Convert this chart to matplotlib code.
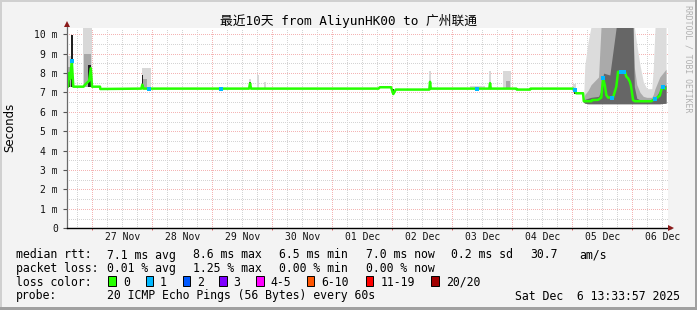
import numpy as np
import matplotlib.pyplot as plt
from matplotlib.patches import Rectangle

plt.rcParams['font.family'] = 'DejaVu Sans Mono'

W, H = 697, 310

# time axis: hours since 2025-11-26 00:00, values in ms
med_hours = [13.76, 14.3, 14.7, 15.1, 15.8, 16.4, 20.5, 21.1, 22.7, 23.4, 23.9, 27.1, 27.2,
             43.6, 44.0, 44.4, 86.7, 87.1, 87.5, 138.5, 139.0, 143.5, 144.4, 145.4, 158.8,
             159.1, 159.4, 182.8, 183.1, 183.4, 193.6, 193.8, 199.1, 199.3, 216.4, 216.9,
             217.6, 220.3, 220.6, 223.6, 223.9, 226.3, 227.6, 228.3, 229.0, 229.6, 230.3,
             232.3, 233.0, 233.6, 234.3, 237.1, 237.6, 238.3, 239.0, 239.4, 239.9, 240.3,
             241.0, 247.6, 248.3, 249.6, 251.0, 251.6, 252.3, 253.0, 253.6]
med_ms = [7.3, 7.3, 8.0, 7.7, 8.6, 7.3, 7.3, 7.4, 7.6, 8.25, 7.3, 7.3, 7.18,
          7.2, 7.4, 7.2, 7.2, 7.47, 7.2, 7.2, 7.27, 7.27, 6.92, 7.15, 7.15,
          7.55, 7.2, 7.2, 7.48, 7.2, 7.2, 7.15, 7.15, 7.2, 7.2, 7.13,
          6.96, 6.96, 6.55, 6.55, 6.61, 6.62, 6.74, 7.73, 7.39, 6.87, 6.74,
          6.74, 7.04, 7.3, 8.07, 8.05, 7.82, 7.73, 7.56, 7.39, 6.97, 6.61,
          6.55, 6.55, 6.61, 6.7, 6.84, 7.13, 7.3, 7.21, 7.2]

# median samples with 1/20 loss
loss1_hours = [15.8, 46.8, 75.4, 178.0, 216.9, 228.3, 231.8, 235.6, 236.7, 249.0, 252.3]
loss1_ms = [8.6, 7.2, 7.2, 7.2, 7.13, 7.73, 6.74, 8.05, 8.05, 6.65, 7.3]

# smoke bursts before 05 Dec
light_c = [15.0, 22.1, 45.6, 87.1, 90.4, 93.1, 159.1, 183.1, 189.9, 216.9, 178.0]
light_w = [2.6, 3.8, 3.6, 0.6, 0.8, 0.6, 0.8, 0.6, 3.2, 1.2, 6.0]
light_top = [8.9, 10.4, 8.25, 7.7, 7.9, 7.55, 8.1, 8.1, 8.1, 7.45, 7.32]
light_base = [7.3, 7.3, 7.2, 7.2, 7.2, 7.2, 7.2, 7.2, 7.2, 7.0, 7.2]

mid_c = [15.2, 22.0, 45.0, 190.3]
mid_w = [1.8, 3.0, 1.6, 1.4]
mid_top = [8.3, 9.0, 7.7, 7.6]
mid_base = [7.3, 7.3, 7.2, 7.2]

dark_c = [14.6, 15.9, 23.0, 44.0, 87.1, 144.4, 159.1, 183.1, 216.9]
dark_w = [0.8, 0.6, 1.2, 0.4, 0.5, 0.5, 0.5, 0.5, 0.8]
dark_top = [8.0, 9.96, 8.4, 7.9, 7.55, 7.2, 7.6, 7.5, 7.2]
dark_base = [7.3, 7.3, 7.3, 7.2, 7.2, 6.87, 7.2, 7.2, 6.9]

# smoke on 05-06 Dec
end_hours = [220.5, 221.0, 222.3, 223.5, 226.5, 227.5, 228.5, 231.0, 233.6, 240.3,
             240.8, 241.8, 243.1, 244.4, 245.8, 247.8, 248.4, 249.1, 251.0, 253.5]
end_low = [6.5, 6.45, 6.42, 6.42, 6.42, 6.42, 6.42, 6.42, 6.42, 6.42,
           6.42, 6.42, 6.42, 6.42, 6.42, 6.42, 6.42, 6.42, 6.42, 6.45]
end_light = [6.6, 8.4, 9.6, 10.4, 10.4, 10.4, 10.4, 10.4, 10.4, 10.4,
             10.4, 9.45, 8.4, 7.56, 7.2, 7.2, 8.25, 10.4, 10.4, 10.4]
end_mid = [6.6, 6.9, 7.1, 7.4, 7.8, 10.4, 10.4, 10.4, 10.4, 10.4,
           8.3, 7.4, 7.0, 6.8, 6.75, 6.75, 6.9, 7.2, 7.8, 8.2]
end_dark = [6.6, 6.65, 6.7, 6.75, 6.8, 7.1, 8.0, 7.9, 10.4, 10.4,
            7.3, 6.7, 6.62, 6.6, 6.6, 6.6, 6.62, 6.7, 7.1, 7.4]

day_hours = [36, 60, 84, 108, 132, 156, 180, 204, 228, 252]
day_labels = ['27 Nov', '28 Nov', '29 Nov', '30 Nov', '01 Dec', '02 Dec', '03 Dec', '04 Dec', '05 Dec', '06 Dec']
ytick_labels = ['0', '1 m', '2 m', '3 m', '4 m', '5 m', '6 m', '7 m', '8 m', '9 m', '10 m']

loss_names = ['0', '1', '2', '3', '4-5', '6-10', '11-19', '20/20']
loss_colors = ['#26ff00', '#00b8ff', '#0059ff', '#7e00ff', '#ff00ff', '#ff5500', '#ff0000', '#a10000']
loss_box_x = [108.3, 145.7, 182.7, 219.3, 256, 306.7, 365.7, 431]
loss_text_x = [123.3, 160, 196.7, 233.3, 270.7, 321.7, 380.7, 445.7]

rtt_stats = ['7.1 ms avg', '8.6 ms max', '6.5 ms min', '7.0 ms now', '0.2 ms sd', '30.7', 'am/s']
rtt_x = [107.3, 193.3, 279.3, 366, 451, 530, 579.3]
loss_stats = ['0.01 % avg', '1.25 % max', '0.00 % min', '0.00 % now']
loss_x = [107.3, 193.3, 279.3, 366]


def fx(x):
    return x / W


def fy(y):
    return 1 - y / H


fig = plt.figure(figsize=(W / 100, H / 100), dpi=100, facecolor='#f3f3f3')
ax = fig.add_axes([fx(66.7), fy(228.3), (668.3 - 66.7) / W, (228.3 - 27.7) / H])
ax.set_facecolor('white')
ax.set_xlim(13.76, 254.4)
ax.set_ylim(0, 10.34)

# grid, dotted like rrdtool
for h in range(18, 255, 6):
    col = '#f4b4b4' if h % 24 == 0 else '#d4d4d4'
    ax.axvline(h, color=col, lw=0.72, ls=(0, (1, 1.4)), antialiased=False, zorder=0.5)
for v in np.arange(0.5, 10.4, 0.5):
    col = '#f4b4b4' if v % 1 == 0 else '#d4d4d4'
    ax.axhline(v, color=col, lw=0.72, ls=(0, (1, 1.4)), antialiased=False, zorder=0.5)

# smoke
ax.bar(light_c, np.subtract(light_top, light_base), bottom=light_base, width=light_w,
       color='#d8d8d8', lw=0, zorder=1)
ax.bar(mid_c, np.subtract(mid_top, mid_base), bottom=mid_base, width=mid_w,
       color='#a8a8a8', lw=0, zorder=1.1)
ax.bar(dark_c, np.subtract(dark_top, dark_base), bottom=dark_base, width=dark_w,
       color='#202020', lw=0, zorder=1.2)
ax.fill_between(end_hours, end_low, end_light, color='#dcdcdc', lw=0, zorder=1)
ax.fill_between(end_hours, end_low, end_mid, color='#aaaaaa', lw=0, zorder=1.1)
ax.fill_between(end_hours, end_low, end_dark, color='#666666', lw=0, zorder=1.2)

# median
ax.plot(med_hours, med_ms, color='#26ff00', lw=1.8, zorder=3, solid_capstyle='butt')
ax.plot(loss1_hours, loss1_ms, ls='none', marker='s', ms=2.2, mew=0, color='#00b8ff', zorder=4)

# axes
for s in ax.spines.values():
    s.set_visible(False)
ax.plot([0, 0], [0, 1.02], transform=ax.transAxes, color='#6a6a6a', lw=0.9, clip_on=False, zorder=5)
ax.plot([0, 1.004], [0, 0], transform=ax.transAxes, color='black', lw=1.0, clip_on=False, zorder=5)
ax.plot(0, 1.02, marker='^', ms=3.8, mew=0, color='#8b1a1a', transform=ax.transAxes, clip_on=False, zorder=6)
ax.plot(1.0045, 0, marker='>', ms=3.8, mew=0, color='#8b1a1a', transform=ax.transAxes, clip_on=False, zorder=6)

ax.set_xticks(day_hours)
ax.set_xticklabels(day_labels)
ax.set_xticks(range(24, 254, 24), minor=True)
ax.tick_params(axis='x', which='major', length=0, pad=3, labelsize=7, colors='#111111')
ax.tick_params(axis='x', which='minor', length=1.6, width=0.7, color='#e06060')
ax.set_yticks(range(11))
ax.set_yticklabels(ytick_labels)
ax.tick_params(axis='y', length=3.2, width=0.8, pad=3.1, labelsize=7, colors='#111111')
ax.tick_params(axis='y', which='major', color='#555555')

# texts
fig.text(0.5, fy(21), '最近10天 from AliyunHK00 to 广州联通', ha='center', va='center', fontsize=9.2,
         family=['DejaVu Sans Mono', 'Noto Sans CJK SC'])
fig.text(fx(10), fy(127.5), 'Seconds', rotation=90, ha='center', va='center', fontsize=8.5, family='DejaVu Sans')
fig.text(fx(688), fy(59), 'RRDTOOL / TOBI OETIKER', rotation=270, ha='center', va='center',
         fontsize=5.9, color='#b0b0b0')

fs = 8.3
fig.text(fx(16), fy(255), 'median rtt:', fontsize=fs, va='center')
for s, x in zip(rtt_stats, rtt_x):
    fig.text(fx(x), fy(255), s, fontsize=fs, va='center')
fig.text(fx(16), fy(268.5), 'packet loss:', fontsize=fs, va='center')
for s, x in zip(loss_stats, loss_x):
    fig.text(fx(x), fy(268.5), s, fontsize=fs, va='center')
fig.text(fx(16), fy(282.3), 'loss color:', fontsize=fs, va='center')
for name, col, bx, tx in zip(loss_names, loss_colors, loss_box_x, loss_text_x):
    fig.add_artist(Rectangle((fx(bx), fy(286.2)), 7.7 / W, 10.5 / H, transform=fig.transFigure,
                             facecolor=col, edgecolor='black', lw=0.7))
    fig.text(fx(tx), fy(282.3), name, fontsize=fs, va='center')
fig.text(fx(16), fy(296), 'probe:', fontsize=fs, va='center')
fig.text(fx(107.3), fy(296), '20 ICMP Echo Pings (56 Bytes) every 60s', fontsize=fs, va='center')
fig.text(fx(680), fy(296), 'Sat Dec  6 13:33:57 2025', fontsize=fs, va='center', ha='right')

# frame
fig.add_artist(Rectangle((0, 1 - 2 / H), 1, 2 / H, transform=fig.transFigure, color='#d0d0d0', lw=0))
fig.add_artist(Rectangle((0, 0), 2 / W, 1, transform=fig.transFigure, color='#d0d0d0', lw=0))
fig.add_artist(Rectangle((0, 0), 1, 3 / H, transform=fig.transFigure, color='#a0a0a0', lw=0))
fig.add_artist(Rectangle((1 - 2 / W, 0), 2 / W, 1, transform=fig.transFigure, color='#a0a0a0', lw=0))

fig.savefig('out.png', dpi=100, facecolor=fig.get_facecolor())
